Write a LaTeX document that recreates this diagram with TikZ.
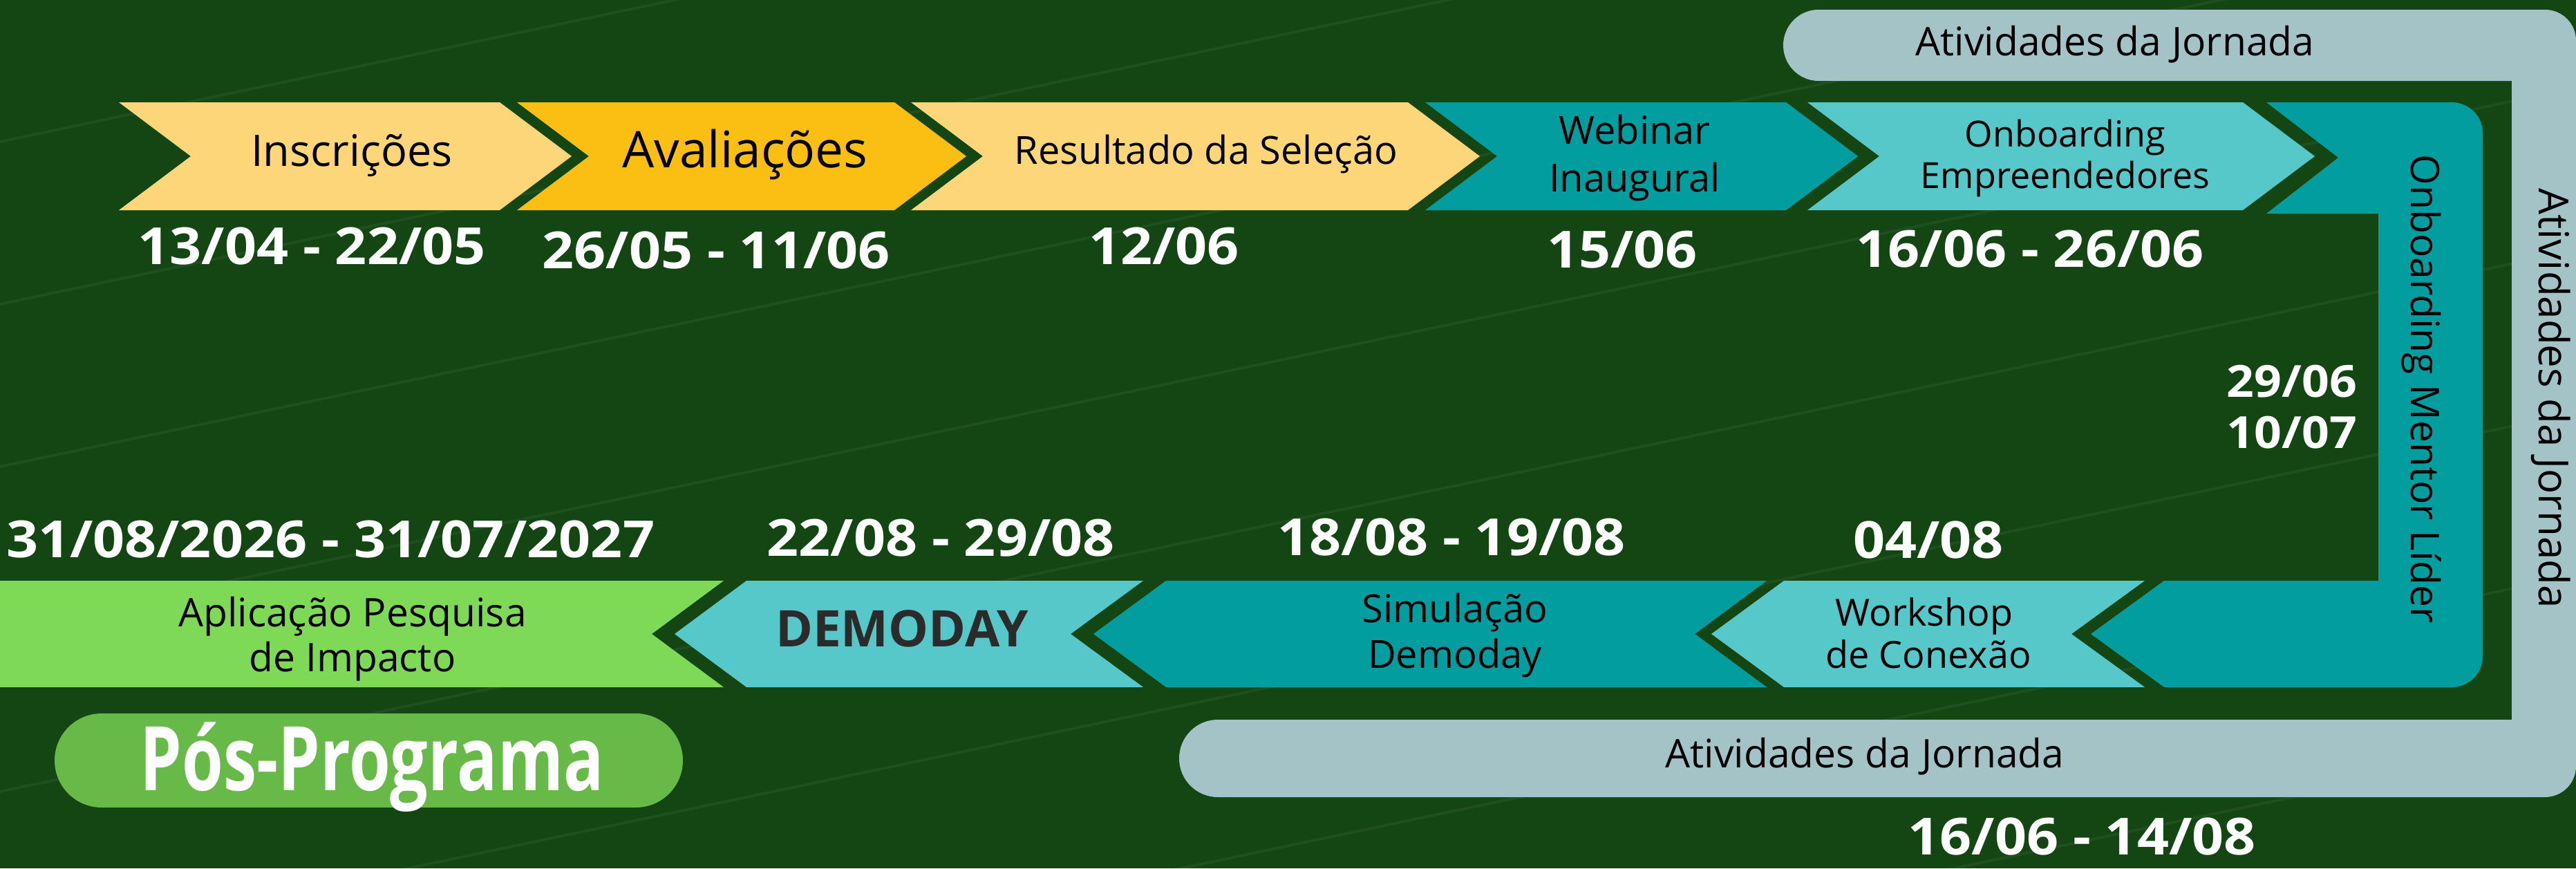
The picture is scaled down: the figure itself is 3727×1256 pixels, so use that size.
\documentclass[tikz,border=0pt]{standalone}
\usepackage{fontspec}
\setmainfont{Open Sans}
\newfontfamily\datefont[FakeStretch=1.09]{Open Sans}
\usepackage{graphicx}
\newcommand{\setfs}[1]{\fontsize{#1pt}{#1pt}\selectfont}
\definecolor{cBg}{HTML}{134612}
\definecolor{cLYel}{HTML}{FCD679}
\definecolor{cAmber}{HTML}{FBBF14}
\definecolor{cTeal}{HTML}{029D9F}
\definecolor{cLTeal}{HTML}{56C8CA}
\definecolor{cLGreen}{HTML}{7ED957}
\definecolor{cPill}{HTML}{67B948}
\definecolor{cFrame}{HTML}{A3C3C7}
\definecolor{cDark}{HTML}{2B2B2B}
\begin{document}
\begin{tikzpicture}[x=1pt,y=-1pt,
  lbl/.style={text=black, anchor=base, inner sep=0pt, font=\setfs{56}},
  datelbl/.style={text=white, anchor=base, inner sep=0pt, font=\datefont\bfseries\setfs{74}},
  bgline/.style={line width=4pt, white, opacity=0.05}]
\useasboundingbox (0,0) rectangle (3727,1256);
\clip (0,0) rectangle (3727,1256);
\fill[cBg] (0,0) rectangle (3727,1256);
\foreach \c in {-30,205,440,675,910,1145,1380,1615,1850}
  \draw[bgline] (0,\c) -- (3727,\c-783);

% frame "Atividades da Jornada"
\fill[cFrame] (2631,14) -- (3682,14) .. controls (3707,14) and (3727,34) .. (3727,59)
  -- (3727,1108) .. controls (3727,1133) and (3707,1153) .. (3682,1153)
  -- (1762,1153) .. controls (1731,1153) and (1706,1128) .. (1706,1097)
  .. controls (1706,1066) and (1731,1041) .. (1762,1041)
  -- (3634,1041) -- (3634,117) -- (2631,117)
  .. controls (2603,117) and (2580,94) .. (2580,65.5)
  .. controls (2580,37) and (2603,14) .. (2631,14) -- cycle;

% top row
\fill[cLYel] (172,148) -- (723,148) -- (827,226) -- (723,304) -- (172,304) -- (276,226) -- cycle;
\fill[cAmber] (748,148) -- (1294,148) -- (1398,226) -- (1294,304) -- (748,304) -- (852,226) -- cycle;
\fill[cLYel] (1318,148) -- (2037,148) -- (2141,226) -- (2037,304) -- (1318,304) -- (1422,226) -- cycle;
\fill[cTeal] (2062,148) -- (2584,148) -- (2688,226) -- (2584,304) -- (2062,304) -- (2166,226) -- cycle;
\fill[cLTeal] (2615,148) -- (3245,148) -- (3349,226) -- (3245,304) -- (2615,304) -- (2719,226) -- cycle;
% mentor L shape
\fill[cTeal] (3279,148) -- (3547,148) .. controls (3572,148) and (3592,168) .. (3592,193)
  -- (3592,949) .. controls (3592,974) and (3572,994) .. (3547,994)
  -- (3131,994) -- (3025,917) -- (3131,840) -- (3441,840) -- (3441,309)
  -- (3279,309) -- (3383,228) -- cycle;

% bottom row
\fill[cLTeal] (3103,840) -- (2997,917) -- (3103,994) -- (2581,994) -- (2476,917) -- (2581,840) -- cycle;
\fill[cTeal] (2556,840) -- (2452,917) -- (2556,994) -- (1687,994) -- (1582,917) -- (1687,840) -- cycle;
\fill[cLTeal] (1654,840) -- (1549,917) -- (1654,994) -- (1080,994) -- (976,917) -- (1080,840) -- cycle;
\fill[cLGreen] (1047,840) -- (943,917) -- (1047,994) -- (0,994) -- (0,840) -- cycle;

% pill
\fill[cPill, rounded corners=68pt] (79,1032) rectangle (988,1168);

% labels top row
\node[lbl, font=\setfs{63}] (ins) at (509,240) {Inscrições};
\node[lbl, font=\setfs{73}] (ava) at (1078,242) {Avaliações};
\node[lbl] (res) at (1745,237) {Resultado da Seleção};
\node[lbl] (web1) at (2365,208) {Webinar};
\node[lbl] (web2) at (2365,277) {Inaugural};
\node[lbl, font=\setfs{52}] (onb1) at (2988,212) {Onboarding};
\node[lbl, font=\setfs{52}] (onb2) at (2988,272) {Empreendedores};
\node[lbl, font=\setfs{57}] (atv1) at (3060,80) {Atividades da Jornada};
\node[lbl, font=\setfs{57}, rotate=-90] (mentor) at (3488,563) {Onboarding Mentor Líder};
\node[lbl, font=\setfs{60}, rotate=-90] (atv2) at (3673,576) {Atividades da Jornada};

% labels bottom row
\node[lbl, font=\setfs{57}] (apl1) at (510,906) {Aplicação Pesquisa};
\node[lbl, font=\setfs{57}] (apl2) at (510,971) {de Impacto};
\node[lbl, font=\bfseries\setfs{73}, text=cDark] (demo) at (1305,935) {DEMODAY};
\node[lbl] (sim1) at (2105,900) {Simulação};
\node[lbl] (sim2) at (2105,966) {Demoday};
\node[lbl, font=\setfs{54}] (wk1) at (2784,905) {Workshop};
\node[lbl, font=\setfs{54}] (wk2) at (2790,966) {de Conexão};
\node[lbl, font=\setfs{57}] (atv3) at (2698,1110) {Atividades da Jornada};

% dates
\node[datelbl] (d1) at (451,382) {13/04 - 22/05};
\node[datelbl] (d2) at (1036,388) {26/05 - 11/06};
\node[datelbl] (d3) at (1684,382) {12/06};
\node[datelbl] (d4) at (2347,387) {15/06};
\node[datelbl] (d5) at (2937,386) {16/06 - 26/06};
\node[datelbl, font=\datefont\bfseries\setfs{64}] (d6) at (3316,574) {29/06};
\node[datelbl, font=\datefont\bfseries\setfs{64}] (d7) at (3316,648) {10/07};
\node[datelbl] (d8) at (478,806) {31/08/2026 - 31/07/2027};
\node[datelbl] (d9) at (1361,804) {22/08 - 29/08};
\node[datelbl] (d10) at (2100,803) {18/08 - 19/08};
\node[datelbl] (d11) at (2790,807) {04/08};
\node[datelbl] (d12) at (3012,1236) {16/06 - 14/08};

% pill text
\node[datelbl, font=\bfseries\setfs{129}] (pos) at (538,1143) {\scalebox{0.75}[1]{Pós-Programa}};
\end{tikzpicture}
\end{document}
